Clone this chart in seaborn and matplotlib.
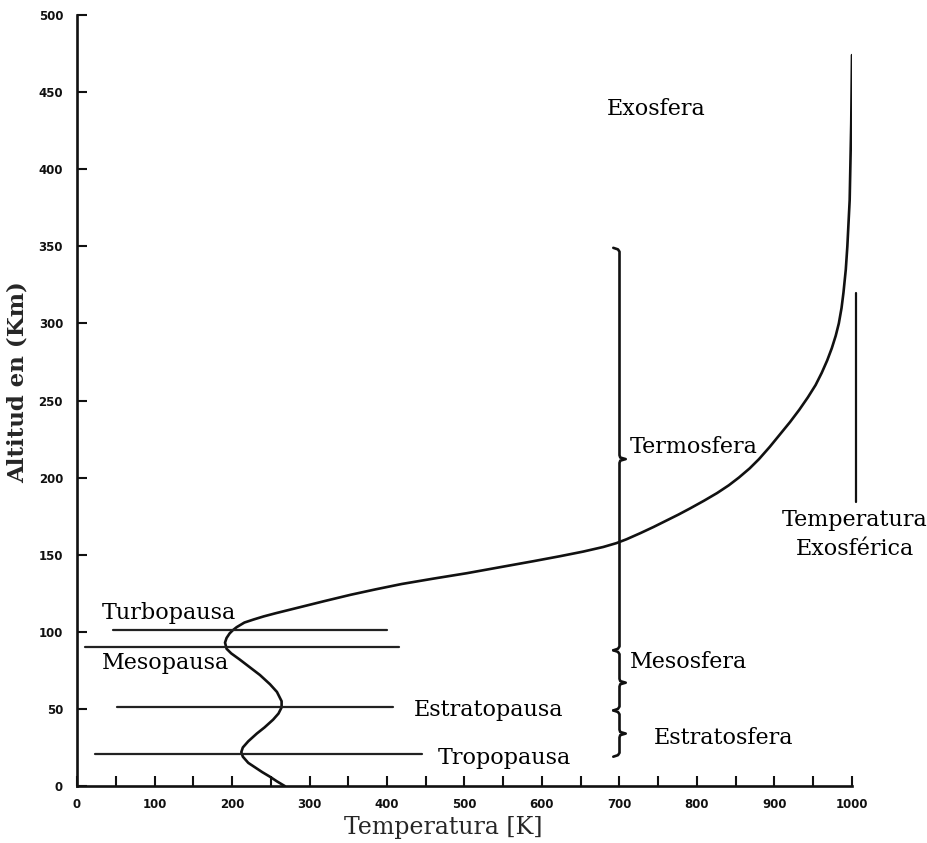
import numpy as np
import pandas as pd
import matplotlib
matplotlib.use("Agg")
import matplotlib.pyplot as plt
import seaborn as sns
from matplotlib.ticker import MultipleLocator

# ---------------- data ----------------
altitude = [0, 3, 6, 9, 12, 15, 19, 22, 25, 29, 34, 38, 43, 47, 51, 55, 61, 66,
            72, 77, 82, 86, 89, 93, 96, 99, 101, 103, 106, 108, 110, 112, 114,
            116, 120, 124, 127.5, 131, 134.5, 138, 142, 145.8, 149, 152, 155,
            157.5, 160, 162, 164, 168, 172, 176, 180, 185, 190, 195, 200, 206,
            212, 220, 228, 236, 244, 252, 260, 268, 276, 284, 292, 300, 310,
            320, 335, 350, 380, 430, 474]
temperature = [268, 258, 249, 239, 230, 221, 214, 212, 214, 221, 232, 242, 253,
               260, 264, 264, 258, 249, 236, 223, 210, 199, 193, 191, 193, 197,
               201, 206, 216, 228, 241, 256, 272, 288, 320, 353, 385, 419, 460,
               503, 547, 589, 623, 653, 679, 696, 709, 718, 727, 744, 760, 776,
               791, 809, 826, 841, 854, 868, 880, 894, 907, 920, 932, 943, 953,
               961, 968, 974, 979, 983, 986.5, 989, 992, 994, 997, 999, 1000]

pause_names = ["Turbopausa", "Mesopausa", "Estratopausa", "Tropopausa"]
pause_alt = [101, 90, 51, 21]
pause_tmin = [47, 10, 51, 23]
pause_tmax = [400, 416, 408, 445]

layer_bounds = [19, 49, 88, 349]     # brace ends (km)
layer_cusps = [34, 67, 212]          # brace tips (km)
layer_names = ["Estratosfera", "Mesosfera", "Termosfera"]
brace_temp = 700

exo_temp = 1005
exo_alt = [184, 320]

x_ticks = [0, 100, 200, 300, 400, 500, 600, 700, 800, 900, 1000]
y_ticks = [0, 50, 100, 150, 200, 250, 300, 350, 400, 450, 500]

# ---------------- style ----------------
sns.set_theme(style="ticks")
plt.rcParams['font.family'] = ['DejaVu Serif']
serif = 'DejaVu Serif'
lab_fs = 16

fig = plt.figure(figsize=(9.28, 8.43), dpi=100)
ax = fig.add_axes([77/928, (843-786)/843, 775/928, 771/843])

ink = "#111111"

profile = pd.DataFrame({"Temperatura": temperature, "Altitud": altitude})
sns.lineplot(data=profile, x="Temperatura", y="Altitud", sort=False,
             estimator=None, color=ink, lw=1.9, ax=ax)

# pause lines
for name, z, t0, t1 in zip(pause_names, pause_alt, pause_tmin, pause_tmax):
    sns.lineplot(x=[t0, t1], y=[z, z], color="#222222", lw=1.6, ax=ax,
                 sort=False, estimator=None)

# braces
def brace(z0, z1, zc, x, dx=8, dz=2.5):
    xs = [x - dx, x - 2, x, x, x + 1, x + dx, x + 1, x, x, x - 2, x - dx]
    zs = [z0, z0 + dz*0.4, z0 + dz, zc - dz, zc - dz*0.4, zc, zc + dz*0.4,
          zc + dz, z1 - dz, z1 - dz*0.4, z1]
    return xs, zs

for i, zc in enumerate(layer_cusps):
    bx, bz = brace(layer_bounds[i], layer_bounds[i+1], zc, brace_temp)
    ax.plot(bx, bz, color=ink, lw=1.9, solid_joinstyle="round")

# exospheric temperature line
ax.plot([exo_temp, exo_temp], exo_alt, color=ink, lw=1.6, clip_on=False)

# labels
txt = dict(fontsize=lab_fs, family=serif, color="black", clip_on=False)
ax.text(683, 439, "Exosfera", ha="left", va="center", **txt)
ax.text(713, 220, "Termosfera", ha="left", va="center", **txt)
ax.text(713, 80.5, "Mesosfera", ha="left", va="center", **txt)
ax.text(744, 31, "Estratosfera", ha="left", va="center", **txt)
ax.text(1004, 163, "Temperatura\nExosférica", ha="center", va="center",
        linespacing=1.45, **txt)
ax.text(32, 112, "Turbopausa", ha="left", va="center", **txt)
ax.text(32, 80, "Mesopausa", ha="left", va="center", **txt)
ax.text(434, 49, "Estratopausa", ha="left", va="center", **txt)
ax.text(465, 18, "Tropopausa", ha="left", va="center", **txt)

ax.set_xlim(0, 1000)
ax.set_ylim(0, 500)
ax.set_xticks(x_ticks)
ax.set_yticks(y_ticks)
ax.xaxis.set_minor_locator(MultipleLocator(50))
ax.set_xticklabels([str(v) for v in x_ticks])
ax.set_yticklabels([str(v) for v in y_ticks])
for lab in ax.get_xticklabels() + ax.get_yticklabels():
    lab.set_fontweight("bold")
    lab.set_family("DejaVu Sans")
    lab.set_fontsize(8.5)
    lab.set_color("#111111")
ax.tick_params(axis="both", which="both", direction="in", length=7, width=1.5,
               color=ink, pad=10)
ax.tick_params(axis="x", pad=9)

ax.set_xlabel("Temperatura [K]", fontsize=17, family=serif)
ax.xaxis.set_label_coords(0.472, -0.054, transform=ax.transAxes)
ax.xaxis.label.set_va("center")
ax.set_ylabel("Altitud en (Km)", fontsize=16.5, family=serif, fontweight="bold")
ax.yaxis.set_label_coords(-0.076, 0.524, transform=ax.transAxes)
ax.yaxis.label.set_va("center")

sns.despine(ax=ax)
for s in ["left", "bottom"]:
    ax.spines[s].set_linewidth(1.9)
    ax.spines[s].set_color(ink)
ax.patch.set_alpha(0)

fig.savefig("out.png", dpi=100)
